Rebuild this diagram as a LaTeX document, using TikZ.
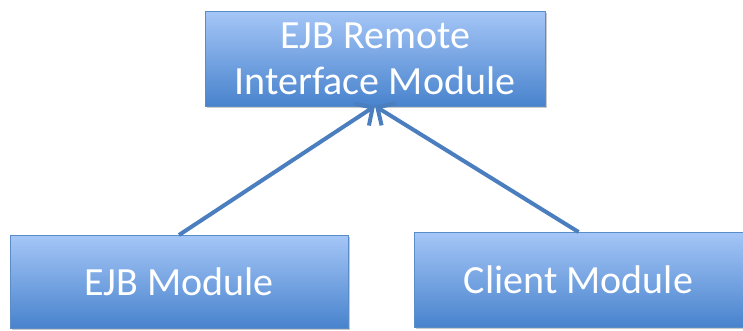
\documentclass[tikz,border=0pt]{standalone}
\usepackage{fontspec}
\setmainfont{Carlito}
\usetikzlibrary{arrows.meta,shadows}
\definecolor{boxtop}{RGB}{165,198,247}
\definecolor{boxbot}{RGB}{72,131,205}
\definecolor{boxedge}{RGB}{90,140,200}
\definecolor{arrowc}{RGB}{74,126,190}
\tikzset{
  modbox/.style={draw=boxedge, line width=0.8pt, top color=boxtop, bottom color=boxbot,
    inner sep=0pt, outer sep=0pt, text=white, align=center,
    font=\fontsize{40}{46}\selectfont,
    drop shadow={shadow xshift=1.5pt, shadow yshift=-2pt, opacity=0.35, fill=black!60}},
  deparrow/.style={draw=arrowc, line width=4pt, -{Straight Barb[length=13pt,width=26pt,line width=4pt]}}
}
\begin{document}
\begin{tikzpicture}[x=1pt,y=-1pt]
\useasboundingbox (0,0) rectangle (743,330);
\node[modbox, minimum width=340pt, minimum height=95pt] (top) at (375,58.5) {EJB Remote\\Interface Module};
\node[modbox, minimum width=338pt, minimum height=93pt] (ejb) at (179,281.5) {EJB Module};
\node[modbox, minimum width=329pt, minimum height=95pt] (client) at (578.5,279.5) {Client Module};
\draw[deparrow] (ejb.north) -- (top.south);
\draw[deparrow] (client.north) -- (top.south);
\end{tikzpicture}
\end{document}
